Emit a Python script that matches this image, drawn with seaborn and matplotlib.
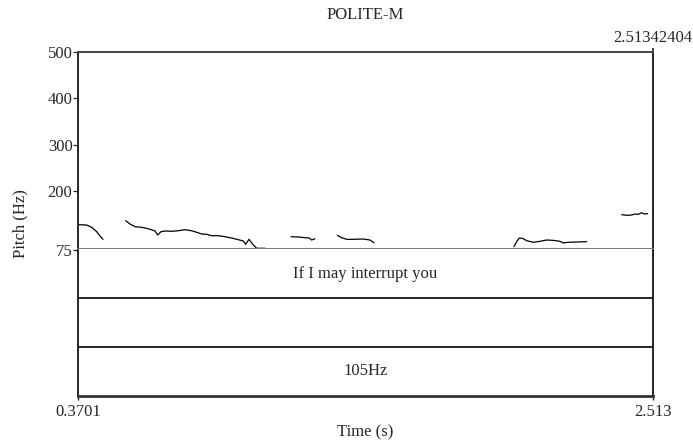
import numpy as np
import pandas as pd
import matplotlib
matplotlib.use("Agg")
import matplotlib.pyplot as plt
import seaborn as sns

# Pitch contour readings (time in s, pitch in Hz), one list per voiced stretch
seg1_t = [0.3738, 0.4025, 0.4212, 0.4398, 0.4521, 0.4633]
seg1_f = [128.3, 127.7, 122.8, 113.3, 104.0, 96.9]

seg2_t = [0.5479, 0.5639, 0.5825, 0.6075, 0.6321, 0.6571, 0.6671, 0.6794, 0.6944,
          0.7193, 0.7439, 0.7689, 0.7939, 0.8125, 0.8311, 0.8498, 0.8684, 0.8930,
          0.9180, 0.9430, 0.9676, 0.9862, 0.9951, 1.0074, 1.0235, 1.0362, 1.0671]
seg2_f = [137.0, 129.9, 124.0, 122.8, 119.7, 114.8, 106.2, 113.3, 114.8,
          114.2, 115.4, 117.6, 115.4, 112.0, 108.3, 107.7, 104.7, 104.7,
          102.5, 99.7, 96.1, 93.3, 86.2, 96.9, 84.7, 77.6, 77.6]

seg3_t = [1.1640, 1.1912, 1.2161, 1.2322, 1.2411, 1.2534]
seg3_f = [102.5, 101.9, 100.4, 99.7, 95.4, 98.2]

seg4_t = [1.3366, 1.3529, 1.3716, 1.3962, 1.4334, 1.4584, 1.4733]
seg4_f = [105.5, 100.4, 96.9, 96.9, 97.6, 95.4, 89.6]

seg5_t = [1.9951, 2.0052, 2.0149, 2.0276, 2.0425, 2.0671, 2.0921, 2.1170, 2.1416,
          2.1666, 2.1789, 2.1975, 2.2288, 2.2661]
seg5_f = [81.0, 91.8, 99.7, 99.0, 93.9, 90.5, 92.6, 95.4, 94.7,
          92.6, 89.0, 90.5, 91.1, 91.8]

seg6_t = [2.3966, 2.4152, 2.4338, 2.4461, 2.4584, 2.4711, 2.4808, 2.4935]
seg6_f = [149.9, 148.6, 149.2, 151.4, 150.7, 154.2, 151.4, 152.1]

t_start = 0.3701
t_end = 2.51342404
y_ticks = [75, 200, 300, 400, 500]
tier_labels = ["If I may interrupt you", "", "105Hz"]

segs = [(seg1_t, seg1_f), (seg2_t, seg2_f), (seg3_t, seg3_f),
        (seg4_t, seg4_f), (seg5_t, seg5_f), (seg6_t, seg6_f)]
df = pd.concat([pd.DataFrame({"time": t, "pitch": f, "seg": i})
                for i, (t, f) in enumerate(segs)], ignore_index=True)

sns.set_style("white")
plt.rcParams["font.family"] = ["Liberation Serif", "DejaVu Serif"]
fs = 12

fig = plt.figure(figsize=(6.93, 4.44), dpi=100)
W, H = 693, 444
left, right = 78, 653
top, mid, bottom = 52, 249.5, 395.5

ax = fig.add_axes([left / W, 1 - mid / H, (right - left) / W, (mid - top) / H])
axt = fig.add_axes([left / W, 1 - bottom / H, (right - left) / W, (bottom - mid) / H])

sns.lineplot(data=df, x="time", y="pitch", units="seg", estimator=None,
             color="black", lw=0.9, ax=ax, legend=False)
ax.set_xlim(t_start, t_end)
ax.set_ylim(75, 500)
ax.set_yticks(y_ticks)
ax.set_yticklabels([str(v) for v in y_ticks], fontsize=fs)
ax.tick_params(axis="y", direction="out", length=3.5, width=0.9, pad=0.5, left=True)
ax.xaxis.tick_top()
ax.set_xticks([t_end])
ax.set_xticklabels(["2.51342404"], fontsize=fs)
ax.tick_params(axis="x", direction="out", length=3, width=1.2, pad=1.5, top=True)
ax.set_xlabel("")
ax.set_ylabel("")
for s in ["left", "right"]:
    ax.spines[s].set_color("black")
    ax.spines[s].set_linewidth(1.2)
ax.spines["top"].set_color("#444444")
ax.spines["top"].set_linewidth(1.4)
ax.spines["bottom"].set_color("#777777")
ax.spines["bottom"].set_linewidth(1.5)

# Text tiers below the pitch panel
axt.set_xlim(t_start, t_end)
axt.set_ylim(0, 3)
for yy in [1, 2]:
    axt.axhline(yy, color="black", lw=1.2)
for i, lab in enumerate(tier_labels):
    if lab:
        axt.text((t_start + t_end) / 2, 2.5 - i, lab, ha="center", va="center", fontsize=fs)
axt.set_yticks([])
axt.set_xticks([t_start, t_end])
axt.set_xticklabels(["0.3701", "2.513"], fontsize=fs)
axt.tick_params(axis="x", direction="out", length=3, width=1.0, pad=3, bottom=True)
for s in ["left", "right", "top"]:
    axt.spines[s].set_color("black")
    axt.spines[s].set_linewidth(1.2)
axt.spines["top"].set_visible(False)
axt.spines["bottom"].set_color("#333333")
axt.spines["bottom"].set_linewidth(2.0)

fig.text((left + right) / 2 / W, 1 - 15 / H, "POLITE-M", ha="center", va="center", fontsize=fs)
fig.text((left + right) / 2 / W, 1 - 432 / H, "Time (s)", ha="center", va="center", fontsize=fs)
fig.text(20 / W, 1 - 224 / H, "Pitch (Hz)", ha="center", va="center", rotation=90, fontsize=fs)

fig.savefig("out.png", dpi=100)
